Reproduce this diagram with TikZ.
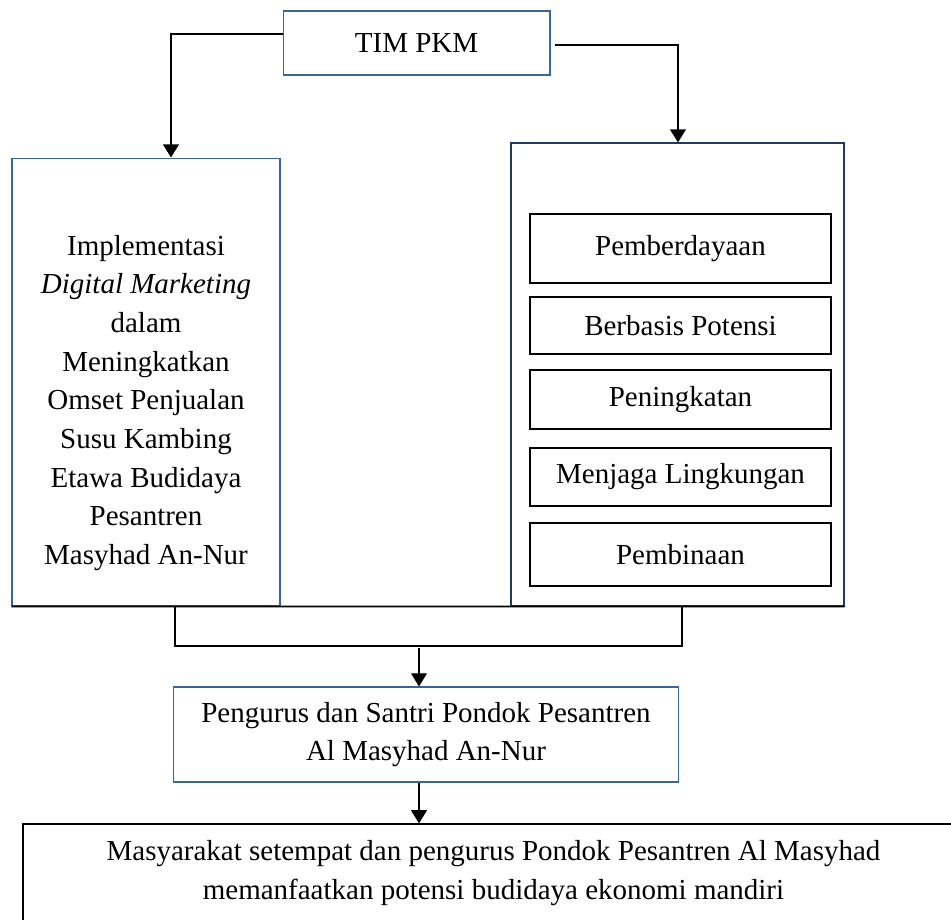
\documentclass[tikz,border=0pt]{standalone}
\usepackage{fontspec}
\setmainfont{Liberation Serif}
\usepackage{tikz}
\usetikzlibrary{arrows.meta,positioning}
\definecolor{boxblue}{RGB}{59,100,151}
\definecolor{navyblue}{RGB}{31,56,100}

\begin{document}
\begin{tikzpicture}[x=0.02cm, y=-0.02cm,
  box/.style={draw=boxblue, line width=0.6pt, inner sep=0pt,
              font=\fontsize{16.5}{22}\selectfont, align=center},
  frame/.style={draw=navyblue, line width=0.7pt, inner sep=0pt},
  item/.style={draw=black, line width=0.9pt, inner sep=0pt, minimum width=6.02cm,
              font=\fontsize{16.5}{22}\selectfont, align=center},
  result/.style={draw=black, line width=0.7pt, inner sep=0pt,
              font=\fontsize{16.5}{22}\selectfont, align=center},
  txt/.style={inner sep=0pt, font=\fontsize{16.5}{22}\selectfont, align=center},
  arrow/.style={-{Triangle[length=7.5pt,width=9pt]}, line width=1.1pt},
  thinarrow/.style={-{Triangle[length=7.5pt,width=9pt]}, line width=0.7pt},
  link/.style={line width=1pt},
]
\useasboundingbox (0,0) rectangle (951,920);

% Top: team
\node[box, minimum width=5.34cm, minimum height=1.28cm] (tim) at (416.5,43) {TIM PKM};

% Row 2: program and activities
\node[box, minimum width=5.36cm, minimum height=8.96cm] (impl) at (146,382) {};
\node[txt] (impltxt) at (146,403) {Implementasi\\\textit{Digital Marketing}\\dalam\\Meningkatkan\\Omset Penjualan\\Susu Kambing\\Etawa Budidaya\\Pesantren\\Masyhad An-Nur};
\node[frame, minimum width=6.66cm, minimum height=9.26cm] (keg) at (677.5,374.5) {};
\node[item, minimum height=1.38cm] (k1) at (680.5,248.5) {Pemberdayaan};
\node[item, minimum height=1.14cm] (k2) at (680.5,325.5) {Berbasis Potensi};
\node[item, minimum height=1.18cm] (k3) at (680.5,399.5) {Peningkatan};
\node[item, minimum height=1.16cm] (k4) at (680.5,477) {Menjaga Lingkungan};
\node[item, minimum height=1.26cm] (k5) at (680.5,554.5) {Pembinaan};

% Row 3: target
\node[box, minimum width=10.09cm, minimum height=1.9cm] (peng) at (426,734.5) {Pengurus dan Santri Pondok Pesantren\\Al Masyhad An-Nur};

% Row 4: outcome
\node[result, minimum width=18.82cm, minimum height=1.96cm] (res) at (493.5,873) {Masyarakat setempat dan pengurus Pondok Pesantren Al Masyhad\\memanfaatkan potensi budidaya ekonomi mandiri};

\coordinate (lx) at (171,0);
\coordinate (rx) at (678,0);
\coordinate (bl) at (175,0);
\coordinate (br) at (682,0);
\coordinate (mid) at (419,646);

\draw[arrow] ([yshift=0.18cm]tim.west) -| (lx |- impl.north);
\draw[arrow] ([xshift=0.08cm,yshift=-0.04cm]tim.east) -| (rx |- keg.north);
\draw[link] (impl.south west) -- (keg.south east);
\draw[link] (bl |- impl.south) |- (mid) -| (br |- keg.south);
\draw[thinarrow] ([yshift=-0.04cm]mid) -- (mid |- peng.north);
\draw[thinarrow] (mid |- peng.south) -- (mid |- res.north);
\end{tikzpicture}
\end{document}
